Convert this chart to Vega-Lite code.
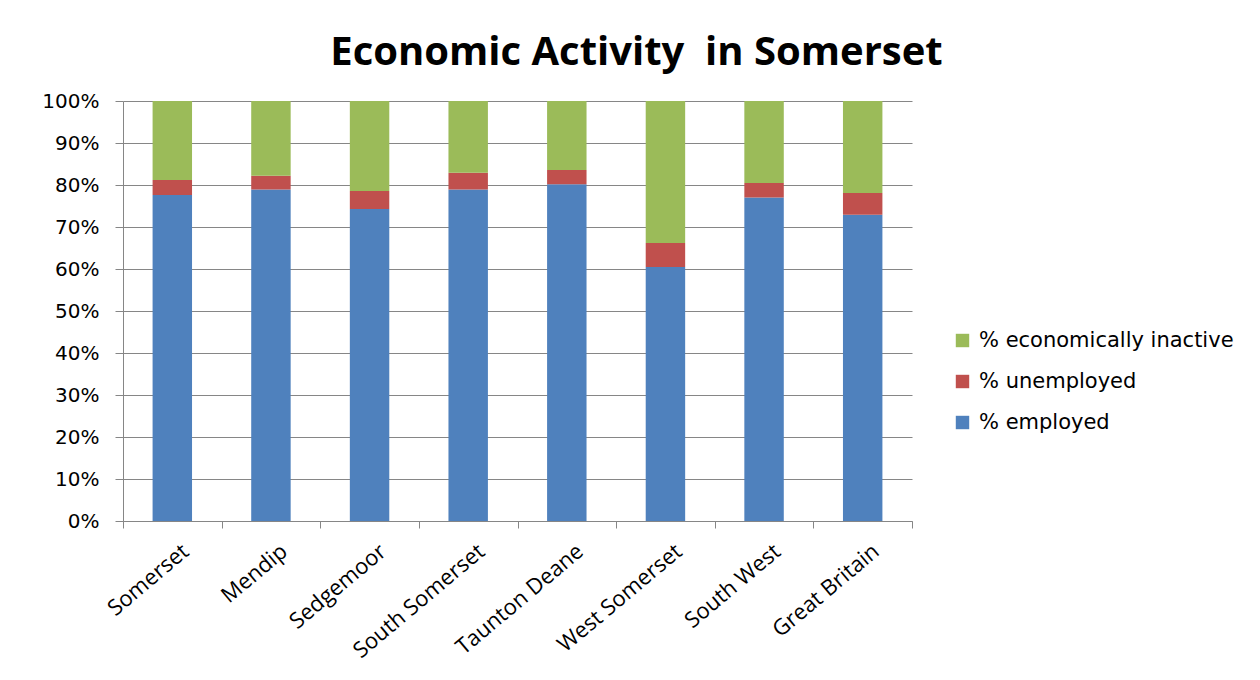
{
  "$schema": "https://vega.github.io/schema/vega-lite/v6.json",
  "width": 789,
  "height": 420,
  "autosize": {"type": "none"},
  "padding": {"left": 123, "top": 101, "right": 348, "bottom": 159},
  "background": "white",
  "title": {
    "text": "Economic Activity\u00a0 in Somerset",
    "font": "Open Sans",
    "fontSize": 40,
    "fontWeight": "bold",
    "color": "#000000",
    "anchor": "middle",
    "frame": "group",
    "dx": 119,
    "offset": 18
  },
  "data": {
    "values": [
      {"area": "Somerset", "series": "% employed", "rank": 1, "pct": 77.6},
      {"area": "Somerset", "series": "% unemployed", "rank": 2, "pct": 3.6},
      {"area": "Somerset", "series": "% economically inactive", "rank": 3, "pct": 18.8},
      {"area": "Mendip", "series": "% employed", "rank": 1, "pct": 78.9},
      {"area": "Mendip", "series": "% unemployed", "rank": 2, "pct": 3.3},
      {"area": "Mendip", "series": "% economically inactive", "rank": 3, "pct": 17.8},
      {"area": "Sedgemoor", "series": "% employed", "rank": 1, "pct": 74.3},
      {"area": "Sedgemoor", "series": "% unemployed", "rank": 2, "pct": 4.3},
      {"area": "Sedgemoor", "series": "% economically inactive", "rank": 3, "pct": 21.4},
      {"area": "South Somerset", "series": "% employed", "rank": 1, "pct": 78.9},
      {"area": "South Somerset", "series": "% unemployed", "rank": 2, "pct": 4.0},
      {"area": "South Somerset", "series": "% economically inactive", "rank": 3, "pct": 17.1},
      {"area": "Taunton Deane", "series": "% employed", "rank": 1, "pct": 80.2},
      {"area": "Taunton Deane", "series": "% unemployed", "rank": 2, "pct": 3.4},
      {"area": "Taunton Deane", "series": "% economically inactive", "rank": 3, "pct": 16.4},
      {"area": "West Somerset", "series": "% employed", "rank": 1, "pct": 60.5},
      {"area": "West Somerset", "series": "% unemployed", "rank": 2, "pct": 5.7},
      {"area": "West Somerset", "series": "% economically inactive", "rank": 3, "pct": 33.8},
      {"area": "South West", "series": "% employed", "rank": 1, "pct": 77.0},
      {"area": "South West", "series": "% unemployed", "rank": 2, "pct": 3.5},
      {"area": "South West", "series": "% economically inactive", "rank": 3, "pct": 19.5},
      {"area": "Great Britain", "series": "% employed", "rank": 1, "pct": 72.9},
      {"area": "Great Britain", "series": "% unemployed", "rank": 2, "pct": 5.2},
      {"area": "Great Britain", "series": "% economically inactive", "rank": 3, "pct": 21.9}
    ]
  },
  "mark": {"type": "bar", "width": {"band": 0.4}},
  "encoding": {
    "x": {
      "field": "area",
      "type": "nominal",
      "sort": null,
      "scale": {"paddingInner": 0, "paddingOuter": 0},
      "axis": {
        "title": null,
        "tickBand": "extent",
        "labelAngle": -40,
        "labelAlign": "right",
        "labelBaseline": "middle",
        "labelFont": "Open Sans",
        "labelFontSize": 22,
        "labelColor": "#000000",
        "labelPadding": 20,
        "labelOffset": 13,
        "domainColor": "#868686",
        "tickColor": "#868686",
        "tickSize": 7,
        "grid": false
      }
    },
    "y": {
      "field": "pct",
      "type": "quantitative",
      "stack": "zero",
      "scale": {"domain": [0, 100], "nice": false},
      "axis": {
        "title": null,
        "values": [0, 10, 20, 30, 40, 50, 60, 70, 80, 90, 100],
        "labelExpr": "datum.value + '%'",
        "labelFont": "DejaVu Sans",
        "labelFontSize": 20,
        "labelColor": "#000000",
        "labelPadding": 16,
        "tickSize": 8,
        "tickColor": "#868686",
        "domainColor": "#868686",
        "grid": true,
        "gridColor": "#868686",
        "gridOpacity": 1
      }
    },
    "color": {
      "field": "series",
      "type": "nominal",
      "scale": {
        "domain": ["% economically inactive", "% unemployed", "% employed"],
        "range": ["#9BBB59", "#C0504D", "#4F81BD"]
      },
      "legend": {
        "title": null,
        "orient": "none",
        "legendX": 829,
        "legendY": 229,
        "symbolType": "square",
        "symbolSize": 180,
        "symbolStrokeWidth": 0,
        "labelFont": "DejaVu Sans",
        "labelFontSize": 21,
        "labelColor": "#000000",
        "labelOffset": 6,
        "labelLimit": 400,
        "rowPadding": 19
      }
    },
    "order": {"field": "rank", "type": "quantitative"}
  },
  "config": {"view": {"stroke": null}}
}
